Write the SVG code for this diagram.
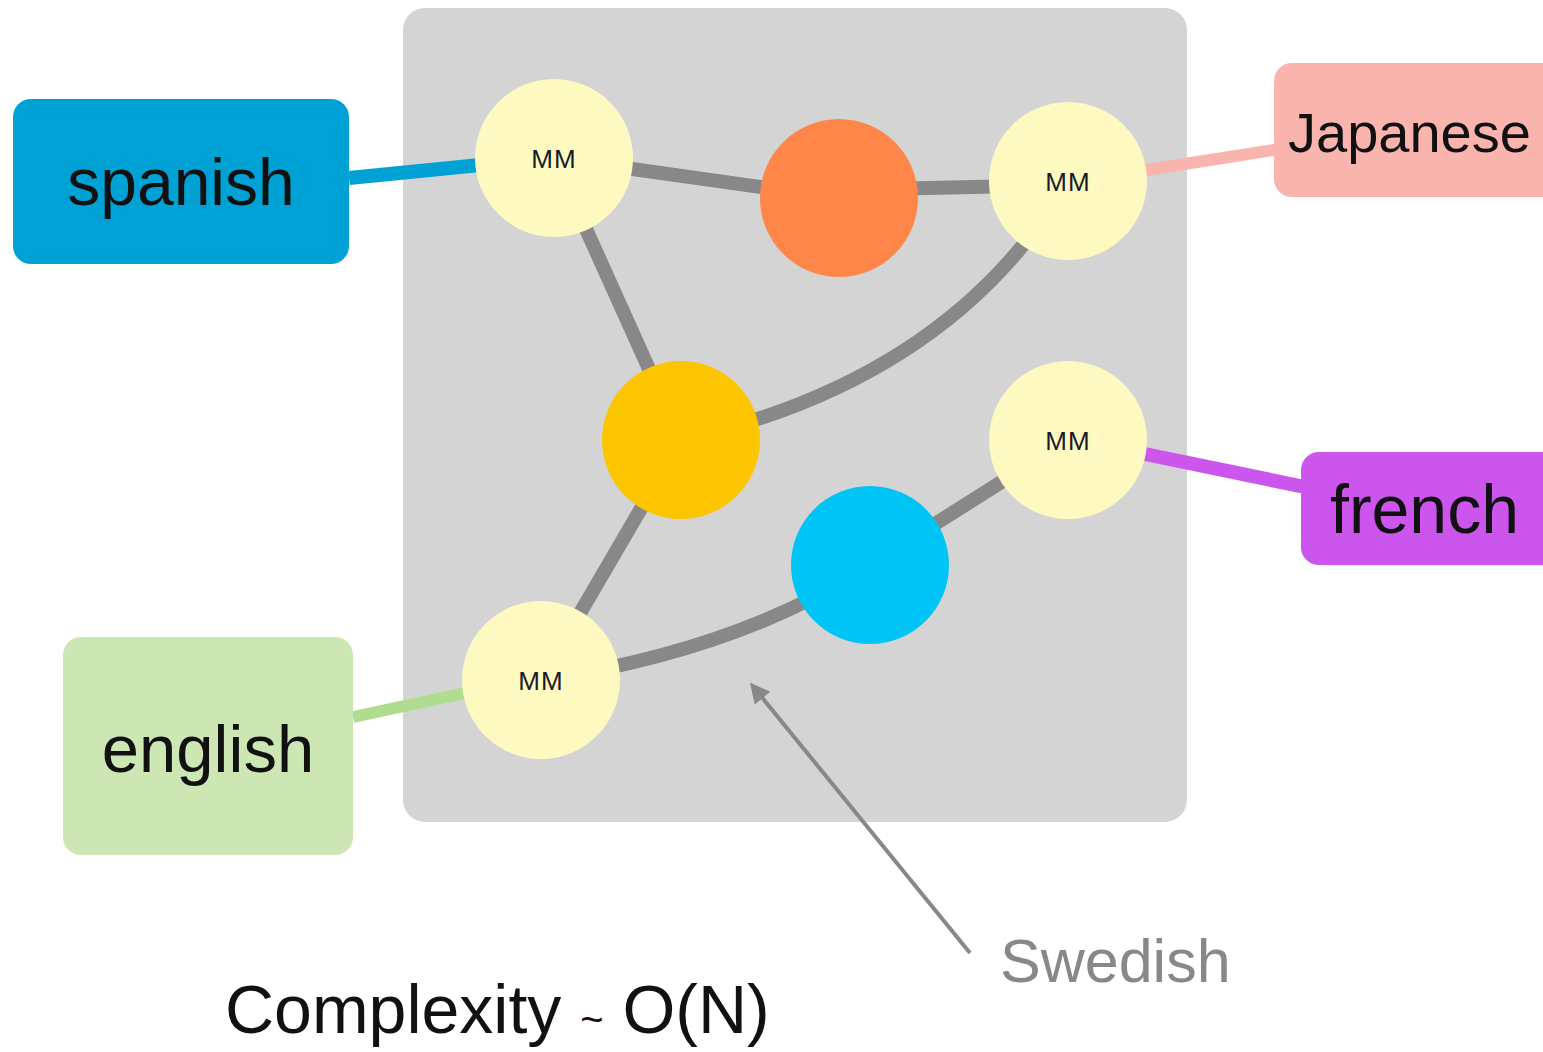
<svg xmlns="http://www.w3.org/2000/svg" width="1543" height="1052" viewBox="0 0 1543 1052">
<defs>
<style>
.lbl{font-family:"Liberation Sans","Noto Sans",sans-serif;fill:#111;}
.mm{fill:#fef9c0;}
.mmt{font-family:"Liberation Sans",sans-serif;font-size:26px;fill:#1a1a2a;text-anchor:middle;letter-spacing:1px;}
.edge{stroke:#888;stroke-width:14;fill:none;}
</style>
<marker id="ah" viewBox="0 0 10 10" refX="2" refY="5" markerWidth="6" markerHeight="5" orient="auto-start-reverse" markerUnits="strokeWidth">
<path d="M0,0 L10,5 L0,10 z" fill="#888"/>
</marker>
</defs>
<rect width="1543" height="1052" fill="#fff"/>
<rect id="panel" x="403" y="8" width="784" height="814" rx="22" fill="#d4d4d4"/>
<g id="connectors">
<line x1="349" y1="178" x2="480" y2="165" stroke="#00a2d6" stroke-width="14"/>
<line x1="1140" y1="171" x2="1280" y2="149" stroke="#f9b4ae" stroke-width="12"/>
<line x1="1140" y1="453" x2="1305" y2="487" stroke="#cc55ee" stroke-width="14"/>
<line x1="353" y1="717" x2="470" y2="692" stroke="#b0dc90" stroke-width="12"/>
<line class="edge" x1="554" y1="158" x2="839" y2="198"/>
<line class="edge" x1="839" y1="190" x2="1068" y2="185"/>
<line class="edge" x1="554" y1="158" x2="681" y2="440"/>
<path class="edge" d="M681,440 Q950,380 1068,181"/>
<line class="edge" x1="681" y1="440" x2="541" y2="680"/>
<path class="edge" d="M541,680 Q740,650 870,565"/>
<line class="edge" x1="870" y1="565" x2="1068" y2="440"/>
<line x1="970" y1="953" x2="760" y2="695" stroke="#888" stroke-width="4" marker-end="url(#ah)"/>
</g>
<g id="spanish"><rect x="13" y="99" width="336" height="165" rx="18" fill="#00a2d6"/><text class="lbl" x="181" y="205" font-size="66" text-anchor="middle">spanish</text></g>
<g id="japanese"><rect x="1274" y="63" width="290" height="134" rx="18" fill="#f9b4ae"/><text class="lbl" x="1288" y="152" font-size="56">Japanese</text></g>
<g id="french"><rect x="1301" y="452" width="260" height="113" rx="18" fill="#cc55ee"/><text class="lbl" x="1330" y="533" font-size="68">french</text></g>
<g id="english"><rect x="63" y="637" width="290" height="218" rx="18" fill="#cce6b4"/><text class="lbl" x="208" y="772" font-size="67" text-anchor="middle">english</text></g>
<g id="mm1"><circle class="mm" cx="554" cy="158" r="79"/><text class="mmt" x="554" y="168">MM</text></g>
<g id="orange"><circle cx="839" cy="198" r="79" fill="#fe8649"/></g>
<g id="mm2"><circle class="mm" cx="1068" cy="181" r="79"/><text class="mmt" x="1068" y="191">MM</text></g>
<g id="gold"><circle cx="681" cy="440" r="79" fill="#fcc500"/></g>
<g id="mm3"><circle class="mm" cx="1068" cy="440" r="79"/><text class="mmt" x="1068" y="450">MM</text></g>
<g id="blue"><circle cx="870" cy="565" r="79" fill="#00c4f5"/></g>
<g id="mm4"><circle class="mm" cx="541" cy="680" r="79"/><text class="mmt" x="541" y="690">MM</text></g>
<g id="swedish"><text x="1000" y="982" font-family="Liberation Sans, sans-serif" font-size="61" fill="#888">Swedish</text></g>
<g id="complexity"><text x="225" y="1033" font-family="Liberation Sans, sans-serif" font-size="68" fill="#111">Complexity <tspan font-size="40">~</tspan> O(N)</text></g>
</svg>
